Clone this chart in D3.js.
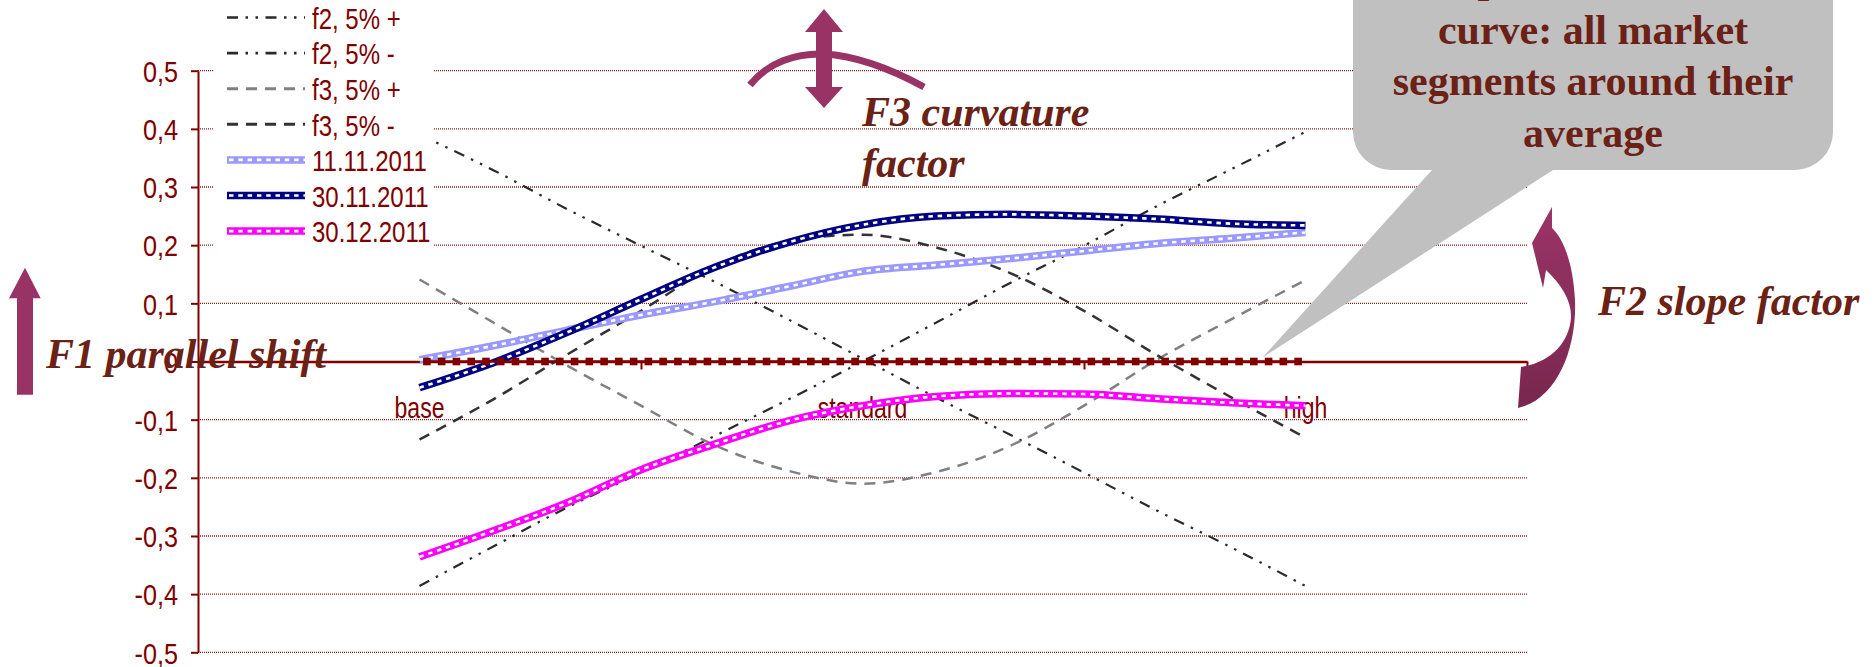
<!DOCTYPE html>
<html><head><meta charset="utf-8">
<script src="https://cdn.jsdelivr.net/npm/d3@7"></script>
<style>
html,body{margin:0;padding:0;background:#fff;overflow:hidden}
svg{display:block}
</style></head><body>
<svg id="chart" width="1874" height="667"></svg>
<script>
// Segment positions along the curve (category index), labelled at base / standard / high
const steps = [0, 5, 10, 15, 20, 25, 30, 35, 40, 45, 50, 55, 60];
const categoryLabels = ["base", "standard", "high"];
const categoryAt = [0, 30, 60];
const xTickAt = [15, 45, 75];
const yTicks = [0.5, 0.4, 0.3, 0.2, 0.1, 0, -0.1, -0.2, -0.3, -0.4, -0.5];
const yTickLabels = ["0,5", "0,4", "0,3", "0,2", "0,1", "0", "-0,1", "-0,2", "-0,3", "-0,4", "-0,5"];

// Factor shocks
const f2Plus  = [-0.386, -0.318, -0.251, -0.191, -0.128, -0.065, 0.000, 0.067, 0.135, 0.199, 0.268, 0.331, 0.395];
const f2Minus = [0.390, 0.329, 0.262, 0.199, 0.137, 0.072, 0.005, -0.062, -0.126, -0.191, -0.257, -0.320, -0.386];
const f3Plus  = [0.141, 0.067, -0.007, -0.076, -0.144, -0.188, -0.210, -0.190, -0.145, -0.076, 0.004, 0.073, 0.140];
const f3Minus = [-0.134, -0.065, 0.012, 0.087, 0.164, 0.207, 0.218, 0.196, 0.152, 0.087, 0.010, -0.062, -0.131];

// Observed curves (deviation from average)
const d20111111 = [0.003, 0.027, 0.054, 0.080, 0.103, 0.129, 0.155, 0.166, 0.177, 0.190, 0.203, 0.212, 0.222];
const d20111130 = [-0.045, -0.002, 0.050, 0.107, 0.162, 0.205, 0.235, 0.250, 0.253, 0.250, 0.245, 0.237, 0.234];
const d20111230 = [-0.336, -0.291, -0.243, -0.186, -0.142, -0.102, -0.076, -0.060, -0.055, -0.056, -0.064, -0.071, -0.076];

// Average level (one point per market segment, between the category positions)
const averageLine = [0,0,0,0,0,0,0,0,0,0,0,0,0,0,0,0,0,0,0,0,0,0,0,0,0,0,0,0,0,0,
                     0,0,0,0,0,0,0,0,0,0,0,0,0,0,0,0,0,0,0,0,0,0,0,0,0,0,0,0,0,0];

const MAROON = "#800000";
const NOTE = "#6b2115";
const PLUM = "#993366";

const series = [
  { name: "f2, 5% +", values: f2Plus,  color: "#2a2a2a", width: 2.2, dash: "11,7.5,2.5,7.5,2.5,7.5", chain: false },
  { name: "f2, 5% -", values: f2Minus, color: "#2a2a2a", width: 2.2, dash: "11,7.5,2.5,7.5,2.5,7.5", chain: false },
  { name: "f3, 5% +", values: f3Plus,  color: "#808080", width: 2.5, dash: "11,8", chain: false },
  { name: "f3, 5% -", values: f3Minus, color: "#333333", width: 2.5, dash: "11,8", chain: false },
  { name: "11.11.2011", values: d20111111, color: "#9999FF", chain: true },
  { name: "30.11.2011", values: d20111130, color: "#000080", chain: true },
  { name: "30.12.2011", values: d20111230, color: "#FF00FF", chain: true }
];

const svg = d3.select("#chart");
const x = d3.scaleLinear().domain([-15, 75]).range([198, 1527]);
const y = d3.scaleLinear().domain([-0.5, 0.5]).range([652.3, 70.7]);

// condensed sans look for axis and legend text
function narrow(sel, k) {
  sel.each(function () {
    const w = this.getComputedTextLength();
    d3.select(this).attr("textLength", w * k).attr("lengthAdjust", "spacingAndGlyphs");
  });
}

// gridlines
svg.append("g").selectAll("line")
  .data(yTicks.filter(v => v !== 0))
  .join("line")
  .attr("x1", x(-15)).attr("x2", x(75))
  .attr("y1", d => y(d)).attr("y2", d => y(d))
  .attr("stroke", "#8b1a1a").attr("stroke-width", 1.3)
  .attr("stroke-dasharray", "1,1");

// y axis
const yAxis = svg.append("g")
  .attr("transform", `translate(${x(-15)},0)`)
  .call(d3.axisLeft(y).tickValues(yTicks).tickSize(7).tickSizeOuter(0).tickPadding(13)
    .tickFormat((d, i) => yTickLabels[i]));
yAxis.select(".domain").attr("stroke", MAROON).attr("stroke-width", 2);
yAxis.selectAll(".tick line").attr("stroke", MAROON).attr("stroke-width", 2);
yAxis.selectAll(".tick text")
  .attr("fill", MAROON).attr("font-family", "'Liberation Sans', Arial, sans-serif")
  .attr("font-size", 30).attr("dy", "0.36em")
  .call(narrow, 0.84);

// x axis on the zero level
const xAxis = svg.append("g")
  .attr("transform", `translate(0,${y(0)})`)
  .call(d3.axisBottom(x).tickValues(xTickAt).tickSize(8).tickSizeOuter(0).tickFormat(""));
xAxis.select(".domain").attr("stroke", MAROON).attr("stroke-width", 2.6);
xAxis.selectAll(".tick line").attr("stroke", MAROON).attr("stroke-width", 2);

svg.append("g").selectAll("text")
  .data(categoryLabels)
  .join("text")
  .attr("x", (d, i) => x(categoryAt[i]))
  .attr("y", y(0) + 56)
  .attr("text-anchor", "middle")
  .attr("fill", MAROON)
  .attr("font-family", "'Liberation Sans', Arial, sans-serif")
  .attr("font-size", 29.5)
  .text(d => d)
  .call(narrow, 0.78);

// series
const line = d3.line()
  .x((d, i) => x(steps[i]))
  .y(d => y(d))
  .curve(d3.curveMonotoneX);

const plot = svg.append("g");
series.forEach(s => {
  if (s.chain) {
    plot.append("path").attr("d", line(s.values)).attr("fill", "none")
      .attr("stroke", s.color).attr("stroke-width", 7.5);
    plot.append("path").attr("d", line(s.values)).attr("fill", "none")
      .attr("stroke", "#fff").attr("stroke-width", 2.6).attr("stroke-dasharray", "4.5,4.8");
  } else {
    plot.append("path").attr("d", line(s.values)).attr("fill", "none")
      .attr("stroke", s.color).attr("stroke-width", s.width)
      .attr("stroke-dasharray", s.dash);
  }
});

// average level with square markers
const avgX = (d, i) => x(i + 0.5);
plot.append("path")
  .attr("d", d3.line().x(avgX).y(d => y(d))(averageLine))
  .attr("fill", "none").attr("stroke", MAROON).attr("stroke-width", 2.6);
plot.append("g").selectAll("rect")
  .data(averageLine)
  .join("rect")
  .attr("x", (d, i) => avgX(d, i) - 3.8)
  .attr("y", d => y(d) - 3.8)
  .attr("width", 7.6).attr("height", 7.6)
  .attr("fill", MAROON);

// legend
const legend = svg.append("g");
legend.append("rect").attr("x", 214).attr("y", -10).attr("width", 220).attr("height", 268).attr("fill", "#fff");
const rowY = i => 17.5 + i * 35.6;
series.forEach((s, i) => {
  const ly = rowY(i);
  if (s.chain) {
    legend.append("line").attr("x1", 227).attr("x2", 305).attr("y1", ly).attr("y2", ly)
      .attr("stroke", s.color).attr("stroke-width", 7.5);
    legend.append("line").attr("x1", 227).attr("x2", 305).attr("y1", ly).attr("y2", ly)
      .attr("stroke", "#fff").attr("stroke-width", 2.6).attr("stroke-dasharray", "4.5,4.8")
      .attr("stroke-dashoffset", -2);
  } else {
    legend.append("line").attr("x1", 227).attr("x2", 305).attr("y1", ly).attr("y2", ly)
      .attr("stroke", s.color).attr("stroke-width", s.width + 0.5)
      .attr("stroke-dasharray", s.dash);
  }
  legend.append("text").attr("x", 312).attr("y", ly + 11.3)
    .attr("fill", MAROON).attr("font-family", "'Liberation Sans', Arial, sans-serif")
    .attr("font-size", 30).text(s.name).call(narrow, 0.8);
});

// ---- factor annotations ----
const serif = "'Liberation Serif', 'Times New Roman', serif";

// F1: upward arrow
svg.append("path")
  .attr("d", "M25,267.7 L9,298.3 L17,298.3 L17,394.7 L33,394.7 L33,298.3 L40.7,298.3 Z")
  .attr("fill", PLUM);

// F3: arch with double-headed arrow
svg.append("path")
  .attr("d", "M750,85 C768,62 797,53 824,54 C858,56 893,70 924,87")
  .attr("fill", "none").attr("stroke", PLUM).attr("stroke-width", 7);
svg.append("path")
  .attr("d", "M824,9 L805,32 L816,32 L816,87 L805,87 L824,108 L843,87 L832,87 L832,32 L843,32 Z")
  .attr("fill", PLUM);

// F2: curved arrow
const defs = svg.append("defs");
const grad = defs.append("linearGradient").attr("id", "f2grad")
  .attr("x1", 0).attr("y1", 0).attr("x2", 0).attr("y2", 1);
grad.append("stop").attr("offset", "0%").attr("stop-color", "#9b3467");
grad.append("stop").attr("offset", "100%").attr("stop-color", "#78274f");
svg.append("path")
  .attr("d", "M1518,408 C1556,400 1577,350 1575,300 C1573,262 1563,238 1552,228 L1552,207 L1532,243 L1543,288 L1546,270 C1562,285 1572,302 1571,318 C1569,342 1552,362 1521,367 Z")
  .attr("fill", "url(#f2grad)");

// callout bubble
svg.append("path")
  .attr("d", "M1353,-80 L1833,-80 L1833,132 A38,38 0 0 1 1795,170 L1553,170 L1262,358 L1432,170 L1391,170 A38,38 0 0 1 1353,132 Z")
  .attr("fill", "#C0C0C0");

// annotation texts on top of shapes
const notes = svg.append("g").attr("font-family", serif)
  .attr("font-weight", "bold").attr("fill", NOTE).attr("font-size", 42);
const italicNotes = [
  { text: "F1 parallel shift", x: 46, y: 368 },
  { text: "F3 curvature", x: 862, y: 126 },
  { text: "factor", x: 862, y: 177 },
  { text: "F2 slope factor", x: 1598, y: 315 }
];
notes.selectAll("text.factor")
  .data(italicNotes)
  .join("text")
  .attr("class", "factor")
  .attr("x", d => d.x).attr("y", d => d.y)
  .attr("font-style", "italic")
  .text(d => d.text);

const bubbleLines = ["An upward shift of the", "curve: all market", "segments around their", "average"];
notes.selectAll("text.bubble")
  .data(bubbleLines)
  .join("text")
  .attr("class", "bubble")
  .attr("x", 1593)
  .attr("y", (d, i) => -8 + i * 51.7)
  .attr("text-anchor", "middle")
  .text(d => d);
</script>
</body></html>
